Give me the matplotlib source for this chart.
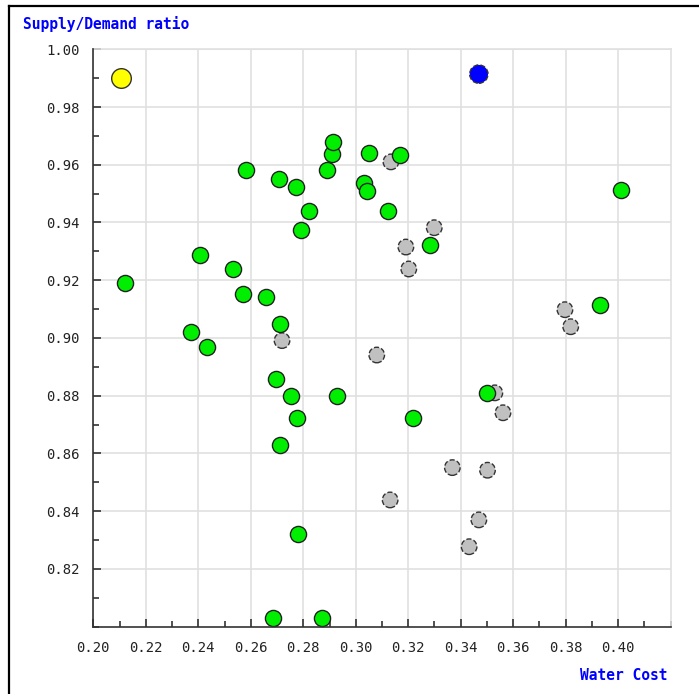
import matplotlib
matplotlib.use("Agg")
import matplotlib.pyplot as plt
from matplotlib.lines import Line2D
from matplotlib.ticker import MultipleLocator

# water cost / supply-demand ratio pairs
grey_x = [0.2719, 0.3134, 0.3191, 0.3299, 0.3202, 0.3080, 0.3530, 0.3561,
          0.3368, 0.3502, 0.3797, 0.3819, 0.3131, 0.3469, 0.3432]
grey_y = [0.8991, 0.9610, 0.9315, 0.9382, 0.9239, 0.8941, 0.8810, 0.8741,
          0.8551, 0.8542, 0.9098, 0.9039, 0.8439, 0.8370, 0.8277]

green_x = [0.2120, 0.2408, 0.2371, 0.2432, 0.2533, 0.2571, 0.2581, 0.2659,
           0.2710, 0.2709, 0.2773, 0.2822, 0.2790, 0.2697, 0.2752, 0.2775,
           0.2710, 0.2930, 0.2779, 0.2683, 0.2870, 0.2890, 0.2910, 0.2913,
           0.3051, 0.3031, 0.3042, 0.3122, 0.3170, 0.3283, 0.3219, 0.3501,
           0.3930, 0.4010]
green_y = [0.9192, 0.9287, 0.9020, 0.8970, 0.9239, 0.9151, 0.9582, 0.9141,
           0.9050, 0.9552, 0.9523, 0.9440, 0.9373, 0.8859, 0.8800, 0.8723,
           0.8628, 0.8800, 0.8321, 0.8029, 0.8029, 0.9582, 0.9638, 0.9679,
           0.9640, 0.9536, 0.9509, 0.9441, 0.9633, 0.9322, 0.8723, 0.8810,
           0.9113, 0.9513]

yellow_x, yellow_y = [0.2104], [0.9900]
blue_x, blue_y = [0.3469], [0.9914]

x_ticks = [0.20, 0.22, 0.24, 0.26, 0.28, 0.30, 0.32, 0.34, 0.36, 0.38, 0.40]
x_labels = ["0.20", "0.22", "0.24", "0.26", "0.28", "0.30", "0.32", "0.34",
            "0.36", "0.38", "0.40"]
y_ticks = [0.82, 0.84, 0.86, 0.88, 0.90, 0.92, 0.94, 0.96, 0.98, 1.00]
y_labels = ["0.82", "0.84", "0.86", "0.88", "0.90", "0.92", "0.94", "0.96",
            "0.98", "1.00"]

fig = plt.figure(figsize=(6.99, 6.94), dpi=100)
ax = fig.add_axes([0.1335, 0.097, 0.826, 0.832])

ax.scatter(grey_x, grey_y, s=125, c="#c0c0c0", edgecolors="#333333",
           linewidths=1.0, linestyles="--", zorder=3, clip_on=False)
ax.scatter(green_x, green_y, s=135, c="#00ee00", edgecolors="#222222",
           linewidths=1.0, zorder=4, clip_on=False)
ax.scatter(yellow_x, yellow_y, s=200, c="#ffff00", edgecolors="#333333",
           linewidths=1.0, zorder=5, clip_on=False)
ax.scatter(blue_x, blue_y, s=175, c="#0000ff", edgecolors="#333333",
           linewidths=1.0, linestyles="--", zorder=5, clip_on=False)

ax.set_xticks(x_ticks)
ax.set_xticklabels(x_labels, family="DejaVu Sans Mono")
ax.set_yticks(y_ticks)
ax.set_yticklabels(y_labels, family="DejaVu Sans Mono")
ax.xaxis.set_minor_locator(MultipleLocator(0.01))
ax.yaxis.set_minor_locator(MultipleLocator(0.01))
ax.set_xlim(0.20, 0.42)
ax.set_ylim(0.80, 1.00)

ax.grid(True, which="major", color="#e0e0e0", linewidth=1.2, zorder=0)
ax.set_axisbelow(True)
for side in ["top", "right"]:
    ax.spines[side].set_color("#e0e0e0")
    ax.spines[side].set_linewidth(1.2)
for side in ["left", "bottom"]:
    ax.spines[side].set_color("#333333")
    ax.spines[side].set_linewidth(1.2)
    ax.spines[side].set_zorder(6)

ax.tick_params(which="both", direction="in", color="#333333", width=1.2,
               top=False, right=False, labelsize=10, labelcolor="#222222")
ax.tick_params(which="major", length=6, pad=10)
ax.tick_params(which="minor", length=4)

fig.text(23 / 699, 1 - 24 / 694, "Supply/Demand ratio", color="#0000ff",
         family="DejaVu Sans Mono", weight="bold", fontsize=10.5,
         ha="left", va="center")
fig.text(668 / 699, 1 - 675 / 694, "Water Cost", color="#0000ff",
         family="DejaVu Sans Mono", weight="bold", fontsize=10.5,
         ha="right", va="center")

# outer frame: top and left edges only
fig.add_artist(Line2D([9 / 699, 1.0], [1 - 6 / 694, 1 - 6 / 694],
                      color="black", linewidth=1.6, transform=fig.transFigure))
fig.add_artist(Line2D([9 / 699, 9 / 699], [0.0, 1 - 6 / 694],
                      color="black", linewidth=1.6, transform=fig.transFigure))

fig.savefig("out.png", dpi=100)
